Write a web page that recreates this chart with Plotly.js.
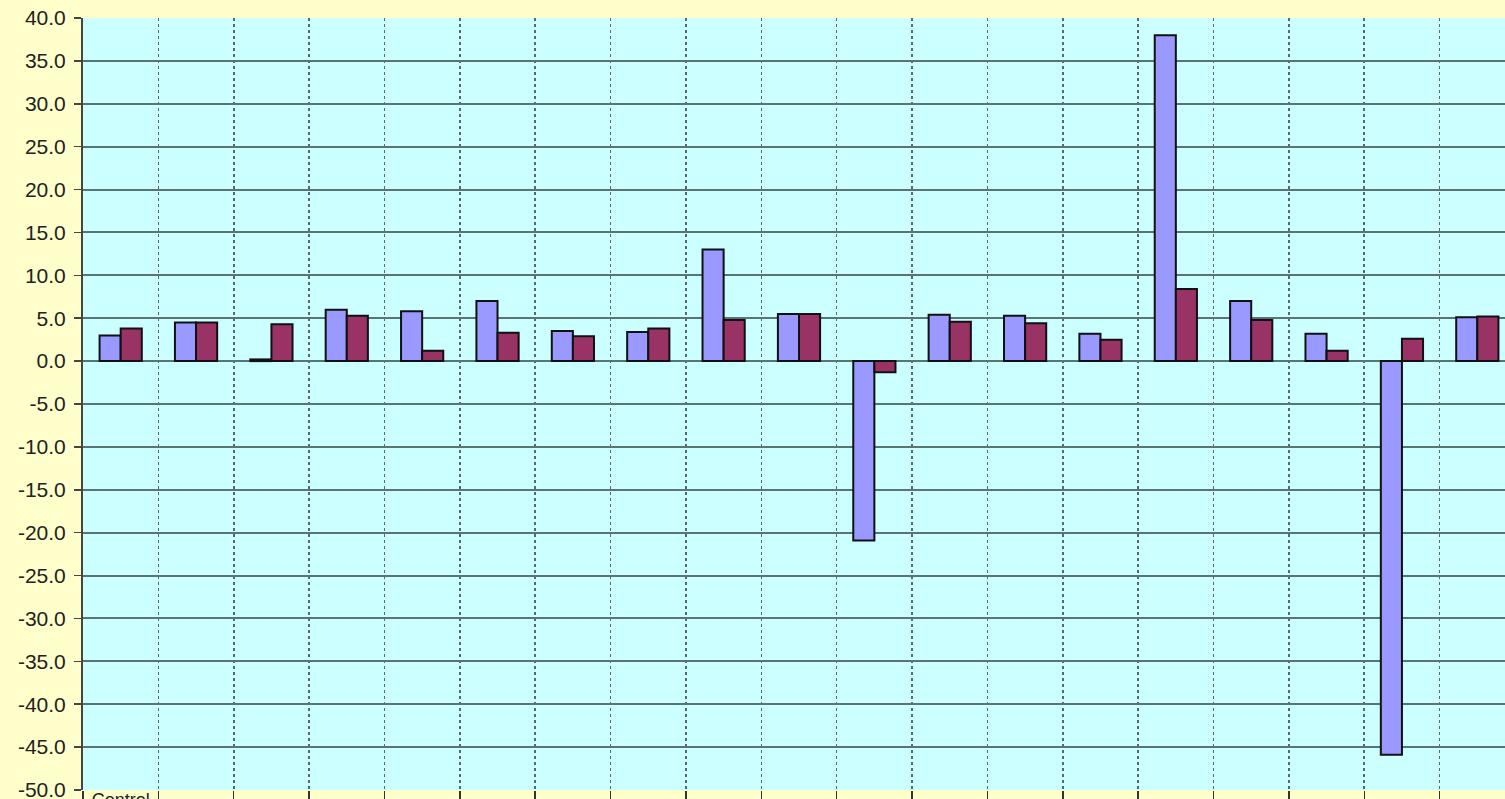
<!DOCTYPE html>
<html>
<head>
<meta charset="utf-8">
<script src="https://cdn.plot.ly/plotly-3.0.1.min.js"></script>
<style>
html,body{margin:0;padding:0;overflow:hidden;background:#FFFFCC;}
#chart{width:1530px;height:840px;}
</style>
</head>
<body>
<div id="chart"></div>
<script>
// Category labels (only the first is legible in the reference)
const categories = ["Control","","","","","","","","","","","","","","","","","",""];
const seriesA = [3.0, 4.5, 0.2, 6.0, 5.8, 7.0, 3.5, 3.4, 13.0, 5.5, -20.9, 5.4, 5.3, 3.2, 38.0, 7.0, 3.2, -45.9, 5.1];
const seriesB = [3.8, 4.5, 4.3, 5.3, 1.2, 3.3, 2.9, 3.8, 4.8, 5.5, -1.3, 4.6, 4.4, 2.5, 8.4, 4.8, 1.2, 2.6, 5.2];
const yTicks = [40,35,30,25,20,15,10,5,0,-5,-10,-15,-20,-25,-30,-35,-40,-45,-50];

const idx = categories.map((c,i)=>i);
const bounds = categories.map((c,i)=>i-0.5).concat([categories.length-0.5]);

const traces = [
  {type:'bar', x:idx, y:seriesA, name:'A',
   marker:{color:'#9999FF', line:{color:'#111111', width:2}}},
  {type:'bar', x:idx, y:seriesB, name:'B',
   marker:{color:'#993366', line:{color:'#111111', width:2}}},
  {type:'scatter', x:idx, y:idx.map(()=>null), xaxis:'x2', showlegend:false, hoverinfo:'skip'}
];

const layout = {
  width:1530, height:840,
  paper_bgcolor:'#FFFFCC',
  plot_bgcolor:'#CCFFFF',
  margin:{l:83, r:15, t:18, b:50},
  showlegend:false,
  barmode:'group',
  bargap:0.44,
  bargroupgap:0,
  font:{family:'Arial, "Liberation Sans", sans-serif', color:'#222222'},
  xaxis:{
    range:[-0.5, categories.length-0.5],
    tickmode:'array', tickvals:bounds, ticktext:bounds.map(()=>''),
    showgrid:true, gridcolor:'#56696b', gridwidth:1.6, griddash:'3px,3px',
    ticks:'outside', ticklen:10, tickcolor:'#333', tickwidth:1.5,
    showline:false, zeroline:false
  },
  xaxis2:{
    overlaying:'x', matches:'x', side:'bottom',
    range:[-0.5, categories.length-0.5],
    tickmode:'array', tickvals:idx, ticktext:categories,
    showgrid:false, zeroline:false, ticks:'',
    tickfont:{size:18, color:'#222'}, ticklabelstandoff:-3
  },
  yaxis:{
    range:[-50, 40],
    tickmode:'array', tickvals:yTicks, ticktext:yTicks.map(v=>v.toFixed(1)),
    tickfont:{size:21, color:'#222'},
    showgrid:true, gridcolor:'#5a7474', gridwidth:2,
    zeroline:false,
    showline:true, linecolor:'#444', linewidth:2,
    ticks:'outside', ticklen:7, tickcolor:'#444', tickwidth:1.5,
    ticklabelstandoff:4
  }
};

Plotly.newPlot('chart', traces, layout, {displayModeBar:false, staticPlot:true});
</script>
</body>
</html>
